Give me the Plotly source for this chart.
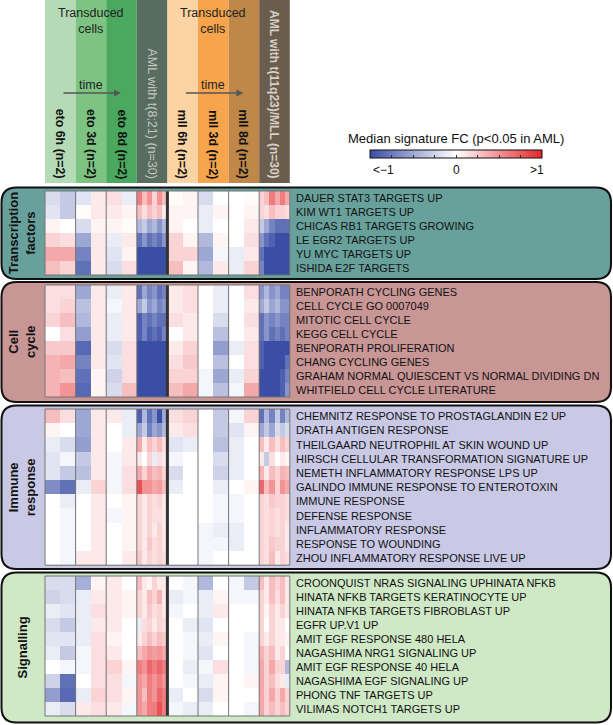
import plotly.graph_objects as go

# ---------------- data ----------------
column_labels = ["eto 6h (n=2)", "eto 3d (n=2)", "eto 8d (n=2)", "AML with t(8;21) (n=30)",
                 "mll 6h (n=2)", "mll 3d (n=2)", "mll 8d (n=2)", "AML with t(11q23)/MLL (n=30)"]

panel_titles = ["Transcription<br>factors", "Cell<br>cycle", "Immune<br>response", "Signalling"]

tf_labels = ["DAUER STAT3 TARGETS UP", "KIM WT1 TARGETS UP", "CHICAS RB1 TARGETS GROWING",
             "LE EGR2 TARGETS UP", "YU MYC TARGETS UP", "ISHIDA E2F TARGETS"]
cc_labels = ["BENPORATH CYCLING GENES", "CELL CYCLE GO 0007049", "MITOTIC CELL CYCLE",
             "KEGG CELL CYCLE", "BENPORATH PROLIFERATION", "CHANG CYCLING GENES",
             "GRAHAM NORMAL QUIESCENT VS NORMAL DIVIDING DN", "WHITFIELD CELL CYCLE LITERATURE"]
imm_labels = ["CHEMNITZ RESPONSE TO PROSTAGLANDIN E2 UP", "DRATH ANTIGEN RESPONSE",
              "THEILGAARD NEUTROPHIL AT SKIN WOUND UP", "HIRSCH CELLULAR TRANSFORMATION SIGNATURE UP",
              "NEMETH INFLAMMATORY RESPONSE LPS UP", "GALINDO IMMUNE RESPONSE TO ENTEROTOXIN",
              "IMMUNE RESPONSE", "DEFENSE RESPONSE", "INFLAMMATORY RESPONSE",
              "RESPONSE TO WOUNDING", "ZHOU INFLAMMATORY RESPONSE LIVE UP"]
sig_labels = ["CROONQUIST NRAS SIGNALING UPHINATA NFKB", "HINATA NFKB TARGETS KERATINOCYTE UP",
              "HINATA NFKB TARGETS FIBROBLAST UP", "EGFR UP.V1 UP", "AMIT EGF RESPONSE 480 HELA",
              "NAGASHIMA NRG1 SIGNALING UP", "AMIT EGF RESPONSE 40 HELA", "NAGASHIMA EGF SIGNALING UP",
              "PHONG TNF TARGETS UP", "VILIMAS NOTCH1 TARGETS UP"]

# transduced eto: [6h a, 6h b, 3d a, 3d b, 8d a, 8d b]
tf_eto = [[-0.2, -0.3, -0.15, 0.1, 0.15, -0.1],
          [-0.15, -0.3, 0.02, 0.1, 0.1, 0.05],
          [0.05, 0.0, -0.2, 0.05, 0.05, 0.02],
          [0.2, 0.15, -0.5, 0.1, -0.1, 0.1],
          [0.4, 0.4, -0.7, 0.1, -0.15, 0.05],
          [0.3, 0.2, -0.8, 0.1, -0.2, 0.15]]
tf_aml821 = [[0.6, 0.3, 0.5, 0.2, 0.5, 0.3],
             [0.3, 0.15, 0.3, 0.2, 0.3, 0.1],
             [-0.4, -0.3, -0.5, -0.4, -0.6, -0.4],
             [-0.8, -0.6, -0.8, -0.7, -0.8, -0.6],
             [-1, -1, -1, -1, -1, -1],
             [-1, -1, -1, -1, -1, -1]]
tf_mll = [[0.02, 0.05, -0.2, 0.0, 0.0, 0.02],
          [0.05, 0.05, -0.1, 0.05, 0.0, 0.05],
          [0.05, 0.0, -0.1, 0.0, 0.0, 0.1],
          [0.2, 0.05, -0.4, 0.05, 0.0, 0.15],
          [0.2, 0.2, -0.5, -0.05, -0.1, 0.1],
          [0.3, 0.05, -0.4, 0.1, -0.1, 0.2]]
tf_amlmll = [[0.2, 0.3, 0.6, 0.4, 0.6, 0.4],
             [0.2, 0.15, 0.3, 0.2, 0.2, 0.15],
             [-0.3, -0.5, -0.7, -0.8, -0.8, -0.8],
             [-0.6, -0.8, -0.9, -1, -1, -1],
             [-0.8, -1, -1, -1, -1, -1],
             [-0.7, -1, -1, -1, -1, -1]]

cc_eto = [[0.15, 0.15, -0.5, 0.1, -0.1, 0.1],
          [0.15, 0.2, -0.35, 0.1, -0.05, 0.1],
          [0.2, 0.3, -0.4, 0.1, -0.1, 0.1],
          [0.0, 0.15, -0.55, 0.1, -0.1, 0.1],
          [0.25, 0.25, -0.85, 0.1, -0.2, 0.15],
          [0.35, 0.4, -0.7, 0.1, -0.15, 0.15],
          [0.35, 0.3, -0.8, 0.05, -0.25, 0.15],
          [0.35, 0.5, -0.85, 0.05, -0.2, 0.3]]
cc_aml821 = [[-0.8, -0.5, -0.7, -0.6, -0.8, -0.7],
             [-0.5, -0.3, -0.6, -0.5, -0.7, -0.6],
             [-0.9, -0.7, -0.8, -0.7, -0.8, -0.8],
             [-0.9, -0.7, -0.9, -0.8, -0.9, -0.7],
             [-1, -1, -1, -1, -1, -1],
             [-1, -1, -1, -1, -1, -1],
             [-1, -1, -1, -1, -1, -1],
             [-1, -1, -1, -1, -1, -1]]
cc_mll = [[0.1, 0.15, 0.0, -0.1, 0.0, 0.15],
          [0.1, 0.15, 0.0, -0.1, 0.0, 0.1],
          [0.15, 0.1, 0.0, -0.2, 0.0, 0.15],
          [0.0, 0.1, 0.0, -0.35, 0.0, 0.1],
          [0.1, 0.2, 0.0, -0.55, -0.1, 0.15],
          [0.15, 0.25, 0.0, -0.35, 0.0, 0.15],
          [0.2, 0.2, -0.05, -0.5, -0.1, 0.2],
          [0.3, 0.4, -0.05, -0.35, -0.05, 0.4]]
cc_amlmll = [[-0.6, -0.4, -0.6, -0.5, -0.7, -0.7],
             [-0.5, -0.3, -0.5, -0.4, -0.6, -0.6],
             [-0.8, -0.6, -0.7, -0.6, -0.7, -0.7],
             [-0.8, -0.6, -0.8, -0.7, -0.8, -0.7],
             [-0.9, -1, -1, -1, -1, -1],
             [-0.9, -1, -1, -1, -1, -0.8],
             [-1, -1, -1, -1, -0.9, -0.7],
             [-1, -1, -1, -1, -0.9, -0.6]]

imm_eto = [[0.3, 0.15, -0.5, 0.1, 0.1, -0.1],
           [0.05, 0.0, -0.5, 0.1, 0.0, -0.1],
           [-0.1, -0.2, -0.55, 0.1, 0.0, 0.1],
           [-0.15, -0.05, -0.3, 0.1, -0.05, 0.1],
           [-0.15, -0.3, -0.35, 0.1, -0.05, 0.15],
           [-0.65, -0.8, -0.1, 0.2, -0.05, 0.15],
           [0.0, -0.1, 0.0, 0.1, 0.0, 0.05],
           [0.0, -0.05, 0.0, 0.1, -0.05, 0.05],
           [0.0, -0.05, 0.0, 0.1, 0.0, 0.05],
           [0.0, -0.05, 0.0, 0.1, 0.0, 0.05],
           [0.0, -0.05, 0.1, 0.1, 0.0, 0.1]]
imm_aml821 = [[-0.9, -0.4, -0.8, -0.6, -1, -0.5],
              [-0.5, -0.3, -0.7, -0.5, -0.6, -0.4],
              [0.4, 0.1, 0.3, 0.2, 0.3, 0.15],
              [0.1, 0.0, 0.2, -0.1, 0.15, 0.1],
              [0.4, 0.2, 0.4, 0.3, 0.35, 0.2],
              [0.8, 0.5, 0.5, 0.4, 0.45, 0.3],
              [0.2, 0.1, 0.2, 0.15, 0.2, 0.1],
              [0.2, 0.1, 0.2, 0.15, 0.15, 0.1],
              [0.2, 0.1, 0.2, 0.1, 0.2, 0.1],
              [0.2, 0.1, 0.25, 0.15, 0.2, 0.1],
              [0.25, 0.1, 0.2, 0.15, 0.2, 0.15]]
imm_mll = [[0.15, 0.2, 0.0, -0.3, -0.05, 0.2],
           [0.1, 0.15, 0.0, -0.3, -0.15, 0.05],
           [-0.15, -0.1, 0.0, -0.35, -0.1, 0.0],
           [-0.05, 0.0, 0.0, -0.2, -0.1, 0.0],
           [-0.2, 0.0, 0.0, -0.25, -0.1, 0.0],
           [-0.1, 0.0, 0.0, -0.1, 0.0, 0.05],
           [0.0, 0.0, 0.0, -0.05, -0.05, 0.0],
           [0.0, 0.0, 0.0, -0.05, -0.05, 0.0],
           [0.0, 0.0, -0.05, -0.1, -0.1, 0.0],
           [0.0, 0.0, -0.05, -0.05, -0.1, 0.0],
           [0.0, 0.0, -0.05, 0.0, 0.0, 0.0]]
imm_amlmll = [[-0.8, -0.4, -0.7, -0.3, -0.7, -0.4],
              [-0.5, -0.3, -0.5, -0.2, -0.3, -0.2],
              [0.3, 0.1, 0.3, 0.15, 0.3, 0.2],
              [0.1, -0.3, 0.15, 0.0, 0.1, 0.05],
              [0.35, 0.1, 0.3, 0.2, 0.35, 0.3],
              [0.7, 0.3, 0.5, 0.2, 0.5, 0.4],
              [0.2, 0.15, 0.25, 0.2, 0.2, 0.15],
              [0.2, 0.15, 0.2, 0.15, 0.2, 0.15],
              [0.2, 0.15, 0.2, 0.15, 0.2, 0.1],
              [0.2, 0.15, 0.25, 0.2, 0.2, 0.1],
              [0.2, 0.15, 0.3, 0.1, 0.2, 0.15]]

sig_eto = [[-0.2, -0.2, -0.45, 0.05, 0.1, 0.0],
           [-0.25, -0.2, -0.1, 0.1, 0.1, 0.05],
           [-0.1, -0.15, -0.1, 0.15, 0.1, 0.05],
           [-0.2, -0.3, -0.1, 0.1, 0.1, 0.0],
           [-0.15, -0.15, -0.1, 0.15, 0.05, 0.0],
           [-0.1, -0.3, -0.05, 0.15, 0.1, 0.0],
           [0.0, -0.05, -0.05, 0.15, 0.2, 0.05],
           [-0.25, -0.8, 0.0, 0.15, 0.15, -0.05],
           [-0.55, -0.85, -0.1, 0.2, 0.15, 0.05],
           [-0.1, -0.2, 0.1, 0.15, 0.1, -0.05]]
sig_aml821 = [[0.3, 0.1, 0.05, 0.2, 0.1, 0.1],
              [0.2, 0.1, 0.3, 0.2, 0.35, 0.1],
              [0.2, 0.1, 0.25, 0.15, 0.2, 0.1],
              [-0.1, 0.15, 0.2, 0.1, 0.2, 0.15],
              [0.1, 0.2, 0.3, 0.2, 0.3, 0.25],
              [0.3, 0.4, 0.5, 0.45, 0.5, 0.4],
              [0.6, 0.5, 0.7, 0.6, 0.7, 0.6],
              [0.5, 0.4, 0.6, 0.5, 0.6, 0.5],
              [0.5, 0.3, 0.6, 0.5, 0.7, 0.6],
              [0.5, 0.4, 0.6, 0.6, 0.8, 0.6]]
sig_mll = [[0.0, -0.05, -0.4, 0.0, -0.05, -0.3],
           [-0.1, -0.05, -0.1, 0.05, -0.05, -0.05],
           [-0.05, 0.0, -0.1, 0.1, 0.0, 0.0],
           [0.0, -0.1, -0.15, 0.0, 0.0, 0.0],
           [0.0, -0.05, -0.1, 0.05, 0.0, -0.05],
           [0.0, -0.05, -0.15, 0.0, 0.0, -0.05],
           [0.0, -0.1, -0.05, 0.15, 0.0, -0.05],
           [0.0, -0.05, -0.1, 0.05, 0.0, 0.05],
           [-0.1, 0.0, -0.2, 0.05, 0.0, 0.0],
           [-0.05, -0.1, -0.1, 0.0, 0.0, -0.05]]
sig_amlmll = [[0.3, 0.1, 0.3, 0.2, 0.3, 0.1],
              [0.2, 0.1, 0.3, 0.15, 0.3, 0.1],
              [0.2, 0.05, 0.2, 0.1, 0.2, 0.1],
              [0.2, 0.0, 0.2, 0.1, 0.1, 0.0],
              [0.2, 0.1, 0.2, 0.1, 0.1, 0.05],
              [0.35, 0.2, 0.3, 0.1, 0.2, 0.0],
              [0.4, 0.2, 0.4, 0.2, 0.2, -0.4],
              [0.4, 0.2, 0.3, 0.15, 0.1, -0.1],
              [0.4, 0.2, 0.4, 0.2, 0.4, 0.2],
              [0.4, 0.2, 0.3, 0.2, 0.3, 0.2]]

colorbar_tickvals = [-1, 0, 1]
colorbar_ticktext = ["<\u22121", "0", ">1"]
colorbar_title = "Median signature FC (p<0.05 in AML)"

# ---------------- layout constants ----------------
W, H = 613, 725
HM_X0 = 45.0
GROUP_W = 30.6
HEADER_BOTTOM = 183
header_colors = ["#b5dbb6", "#7dc382", "#4aa95e", "#586c5f",
                 "#fcd3a3", "#f6a54c", "#c08848", "#6b5d4d"]
panel_fills = ["#68a19c", "#c99696", "#c9c9e6", "#cfe8c6"]
# (heatmap top, row height, box top, box bottom)
panel_geom = [(191, 14.0, 187.5, 279), (285, 14.0, 282, 402),
              (409, 14.2, 405.5, 569), (576, 14.0, 572.5, 722.5)]
BOX_X0, BOX_X1, RADIUS = 1.5, 611, 15
LABEL_X = 294
FONT = "Liberation Sans, Arial, sans-serif"
CB_X0, CB_X1, CB_YC = 370, 542, 156

panels = [
    (tf_labels, tf_eto, tf_aml821, tf_mll, tf_amlmll),
    (cc_labels, cc_eto, cc_aml821, cc_mll, cc_amlmll),
    (imm_labels, imm_eto, imm_aml821, imm_mll, imm_amlmll),
    (sig_labels, sig_eto, sig_aml821, sig_mll, sig_amlmll),
]

group_sub = [2, 2, 2, 6, 2, 2, 2, 6]
x_edges = []
for g, n in enumerate(group_sub):
    gx0 = HM_X0 + g * GROUP_W
    for k in range(n):
        x_edges.append(gx0 + k * GROUP_W / n)
x_edges.append(HM_X0 + 8 * GROUP_W)
HM_X1 = x_edges[-1]

colorscale = [[0.0, "#3a4ea6"], [0.5, "#ffffff"], [1.0, "#e4262b"]]


def rounded_box(x0, y0, x1, y1, r):
    return (f"M {x0+r},{y0} L {x1-r},{y0} Q {x1},{y0} {x1},{y0+r} "
            f"L {x1},{y1-r} Q {x1},{y1} {x1-r},{y1} L {x0+r},{y1} "
            f"Q {x0},{y1} {x0},{y1-r} L {x0},{y0+r} Q {x0},{y0} {x0+r},{y0} Z")


fig = go.Figure()
shapes = []
annotations = []

# header columns
for g in range(8):
    gx0 = HM_X0 + g * GROUP_W
    shapes.append(dict(type="rect", x0=gx0, x1=gx0 + GROUP_W, y0=0, y1=HEADER_BOTTOM,
                       fillcolor=header_colors[g], line=dict(width=0), layer="below"))
    if g == 3:
        txt, size, col = column_labels[g], 12.5, "#c3c8c2"
    elif g == 7:
        txt, size, col = f"<b>{column_labels[g]}</b>", 12, "#d6d0c8"
    else:
        txt, size, col = f"<b>{column_labels[g]}</b>", 12.4, "#111"
    annotations.append(dict(
        x=gx0 + GROUP_W / 2, y=181, xanchor="center", yanchor="bottom",
        text=txt, textangle=90, showarrow=False,
        font=dict(family=FONT, size=size, color=col)))

for gstart in (0, 4):
    cx = HM_X0 + (gstart + 1.5) * GROUP_W
    annotations.append(dict(x=cx, y=21, text="Transduced<br>cells", showarrow=False,
                            xanchor="center", yanchor="middle",
                            font=dict(family=FONT, size=12.5, color="#222")))
    annotations.append(dict(x=cx, y=85, text="time", showarrow=False,
                            xanchor="center", yanchor="middle",
                            font=dict(family=FONT, size=12.5, color="#222")))
    ax0 = HM_X0 + gstart * GROUP_W + 17
    ax1 = HM_X0 + gstart * GROUP_W + 76
    annotations.append(dict(x=ax1, y=93, ax=ax0, ay=93, axref="x", ayref="y",
                            text="", showarrow=True, arrowhead=2, arrowsize=1,
                            arrowwidth=1.4, arrowcolor="#555"))

# panels
for p, (labels, eto, a821, mll, amll) in enumerate(panels):
    top, rh, by0, by1 = panel_geom[p]
    n = len(labels)
    bottom = top + rh * n
    shapes.append(dict(type="path", path=rounded_box(BOX_X0, by0, BOX_X1, by1, RADIUS),
                       fillcolor=panel_fills[p], line=dict(color="#111", width=2),
                       layer="below"))
    y_edges = [top + i * rh for i in range(n + 1)]
    z = [eto[i] + a821[i] + mll[i] + amll[i] for i in range(n)]
    fig.add_trace(go.Heatmap(x=x_edges, y=y_edges, z=z, coloraxis="coloraxis",
                             zsmooth=False, hoverinfo="skip"))
    for g in range(1, 8):
        gx = HM_X0 + g * GROUP_W
        shapes.append(dict(type="line", x0=gx, x1=gx, y0=top, y1=bottom,
                           line=dict(color="#333" if g == 4 else "#747474",
                                     width=3 if g == 4 else 1), layer="above"))
    shapes.append(dict(type="rect", x0=HM_X0, x1=HM_X1, y0=top, y1=bottom,
                       line=dict(color="#747474", width=1), layer="above"))
    for i, lab in enumerate(labels):
        annotations.append(dict(x=LABEL_X, y=top + (i + 0.5) * rh, text=lab,
                                showarrow=False, xanchor="left", yanchor="middle",
                                font=dict(family=FONT, size=11, color="#111")))
    annotations.append(dict(x=22, y=(by0 + by1) / 2, text=f"<b>{panel_titles[p]}</b>",
                            showarrow=False, textangle=-90, xanchor="center",
                            yanchor="middle",
                            font=dict(family=FONT, size=13, color="#111")))

# colorbar title and labels
annotations.append(dict(x=(CB_X0 + CB_X1) / 2, y=138, text=colorbar_title, showarrow=False,
                        xanchor="center", yanchor="middle",
                        font=dict(family=FONT, size=13, color="#111")))
for v, t in zip(colorbar_tickvals, colorbar_ticktext):
    cx = CB_X0 + (v + 1) / 2 * (CB_X1 - CB_X0)
    cx = min(max(cx, CB_X0 + 13), CB_X1 - 5)
    annotations.append(dict(x=cx, y=170, text=t, showarrow=False,
                            xanchor="center", yanchor="middle",
                            font=dict(family=FONT, size=12, color="#111")))

fig.update_layout(
    width=W, height=H, margin=dict(l=0, r=0, t=0, b=0),
    paper_bgcolor="white", plot_bgcolor="white", showlegend=False,
    xaxis=dict(range=[0, W], visible=False, fixedrange=True),
    yaxis=dict(range=[H, 0], visible=False, fixedrange=True),
    shapes=shapes, annotations=annotations,
    coloraxis=dict(
        cmin=-1, cmax=1, colorscale=colorscale,
        colorbar=dict(
            orientation="h", x=(CB_X0 + CB_X1) / 2 / W, xanchor="center",
            y=1 - CB_YC / H, yanchor="middle",
            lenmode="pixels", len=CB_X1 - CB_X0, thickness=8, thicknessmode="pixels",
            outlinewidth=1, outlinecolor="#111", xpad=0, ypad=0,
            tickvals=[-1, -0.75, -0.5, -0.25, 0, 0.25, 0.5, 0.75, 1],
            showticklabels=False, ticks="inside", ticklen=3, tickcolor="#333",
        ),
    ),
)

fig.write_html("out.html", config={"displayModeBar": False},
               post_script="document.body.style.margin='0';document.body.style.overflow='hidden';")
